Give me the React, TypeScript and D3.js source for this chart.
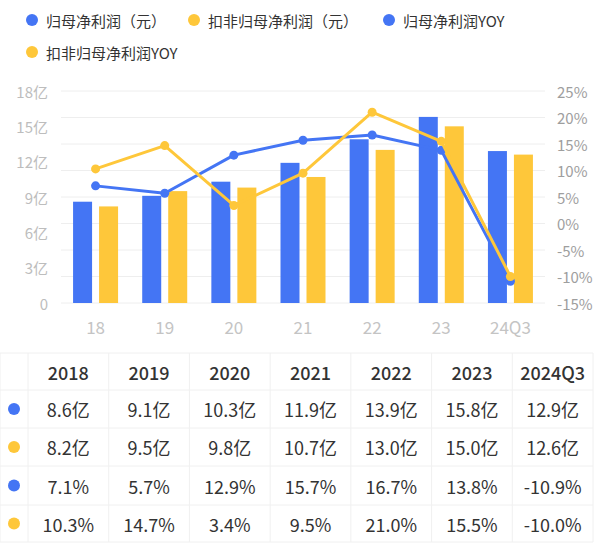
import * as d3 from "d3";

const categories = ["18", "19", "20", "21", "22", "23", "24Q3"];
const tableYears = ["2018", "2019", "2020", "2021", "2022", "2023", "2024Q3"];
const netProfit = [8.6, 9.1, 10.3, 11.9, 13.9, 15.8, 12.9];
const deductedProfit = [8.2, 9.5, 9.8, 10.7, 13.0, 15.0, 12.6];
const netProfitYoy = [7.1, 5.7, 12.9, 15.7, 16.7, 13.8, -10.9];
const deductedYoy = [10.3, 14.7, 3.4, 9.5, 21.0, 15.5, -10.0];
const leftTicks = [0, 3, 6, 9, 12, 15, 18];
const seriesNames = ["归母净利润（元）", "扣非归母净利润（元）", "归母净利润YOY", "扣非归母净利润YOY"];

const BLUE = "#4475F4";
const YELLOW = "#FEC73A";
const FONT = "'Noto Sans CJK SC', 'Noto Sans', sans-serif";

const W = 601;
const H = 553;

export default function App() {
  const x = d3.scaleBand<string>().domain(categories).range([61, 545]);
  const yLeft = d3.scaleLinear().domain([0, 18]).range([303, 91]);
  const yRight = d3.scaleLinear().domain([-15, 25]).range([303, 91]);
  const rightTicks = yRight.ticks(8);
  const cx = (c: string) => (x(c) ?? 0) + x.bandwidth() / 2;

  const barW = 19;
  const lineOf = (vals: number[]) =>
    d3
      .line<number>()
      .x((_, i) => cx(categories[i]))
      .y((d) => yRight(d))(vals) ?? "";

  // legend layout (two rows)
  const legend = [
    { name: seriesNames[0], color: BLUE, x: 32, y: 20 },
    { name: seriesNames[1], color: YELLOW, x: 194, y: 20 },
    { name: seriesNames[2], color: BLUE, x: 389, y: 20 },
    { name: seriesNames[3], color: YELLOW, x: 32, y: 52 },
  ];

  // table
  const rowLines = [353, 390, 428, 466, 505, 542];
  const colX = d3.scaleBand<string>().domain(tableYears).range([28, 593]);
  const rows = [
    { color: BLUE, vals: netProfit.map((v) => v.toFixed(1) + "亿") },
    { color: YELLOW, vals: deductedProfit.map((v) => v.toFixed(1) + "亿") },
    { color: BLUE, vals: netProfitYoy.map((v) => v.toFixed(1) + "%") },
    { color: YELLOW, vals: deductedYoy.map((v) => v.toFixed(1) + "%") },
  ];
  const colEdges = [0, ...tableYears.map((t) => colX(t) ?? 0), 593];

  return (
    <>
      <style>{`body{margin:0;background:#fff}`}</style>
      <svg width={W} height={H} style={{ display: "block", fontFamily: FONT }}>
        {/* legend */}
        {legend.map((l) => (
          <g key={l.name}>
            <circle cx={l.x} cy={l.y} r={6} fill={l.color} />
            <text x={l.x + 14} y={l.y} dominantBaseline="central" fontSize={15} fill="#333">
              {l.name}
            </text>
          </g>
        ))}

        {/* grid */}
        {rightTicks.map((t) => (
          <line key={t} x1={61} x2={545} y1={yRight(t)} y2={yRight(t)} stroke="#eeeeee" strokeWidth={1} />
        ))}

        {/* left axis */}
        {leftTicks.map((t) => (
          <text key={t} x={48} y={yLeft(t)} textAnchor="end" dominantBaseline="central" fontSize={15} fill="#bdbdbd">
            {t === 0 ? "0" : `${t}亿`}
          </text>
        ))}

        {/* right axis */}
        {rightTicks.map((t) => (
          <text key={t} x={557} y={yRight(t)} dominantBaseline="central" fontSize={15} fill="#9e9e9e">
            {`${t}%`}
          </text>
        ))}

        {/* x axis */}
        {categories.map((c) => (
          <text key={c} x={cx(c)} y={326} textAnchor="middle" dominantBaseline="central" fontSize={17} fill="#c4c4c4">
            {c}
          </text>
        ))}

        {/* bars */}
        {categories.map((c, i) => (
          <g key={c}>
            <rect x={cx(c) - 13 - barW / 2} y={yLeft(netProfit[i])} width={barW} height={yLeft(0) - yLeft(netProfit[i])} fill={BLUE} />
            <rect x={cx(c) + 13 - barW / 2} y={yLeft(deductedProfit[i])} width={barW} height={yLeft(0) - yLeft(deductedProfit[i])} fill={YELLOW} />
          </g>
        ))}

        {/* lines */}
        <path d={lineOf(netProfitYoy)} fill="none" stroke={BLUE} strokeWidth={3} strokeLinejoin="round" />
        {netProfitYoy.map((v, i) => (
          <circle key={i} cx={cx(categories[i])} cy={yRight(v)} r={4.5} fill={BLUE} />
        ))}
        <path d={lineOf(deductedYoy)} fill="none" stroke={YELLOW} strokeWidth={3} strokeLinejoin="round" />
        {deductedYoy.map((v, i) => (
          <circle key={i} cx={cx(categories[i])} cy={yRight(v)} r={4.5} fill={YELLOW} />
        ))}

        {/* table */}
        {rowLines.map((y) => (
          <line key={y} x1={0} x2={593} y1={y} y2={y} stroke="#f0f0f0" strokeWidth={1} />
        ))}
        {colEdges.map((cxv, i) => (
          <line key={i} x1={cxv} x2={cxv} y1={353} y2={542} stroke="#f0f0f0" strokeWidth={1} />
        ))}
        {tableYears.map((t) => (
          <text key={t} x={(colX(t) ?? 0) + colX.bandwidth() / 2} y={(rowLines[0] + rowLines[1]) / 2} textAnchor="middle" dominantBaseline="central" fontSize={18} fontWeight={500} fill="#333">
            {t}
          </text>
        ))}
        {rows.map((r, ri) => {
          const yc = (rowLines[ri + 1] + rowLines[ri + 2]) / 2;
          return (
            <g key={ri}>
              <circle cx={14} cy={yc} r={6} fill={r.color} />
              {r.vals.map((v, ci) => (
                <text key={ci} x={(colX(tableYears[ci]) ?? 0) + colX.bandwidth() / 2} y={yc} textAnchor="middle" dominantBaseline="central" fontSize={18} fill="#333">
                  {v}
                </text>
              ))}
            </g>
          );
        })}
      </svg>
    </>
  );
}
